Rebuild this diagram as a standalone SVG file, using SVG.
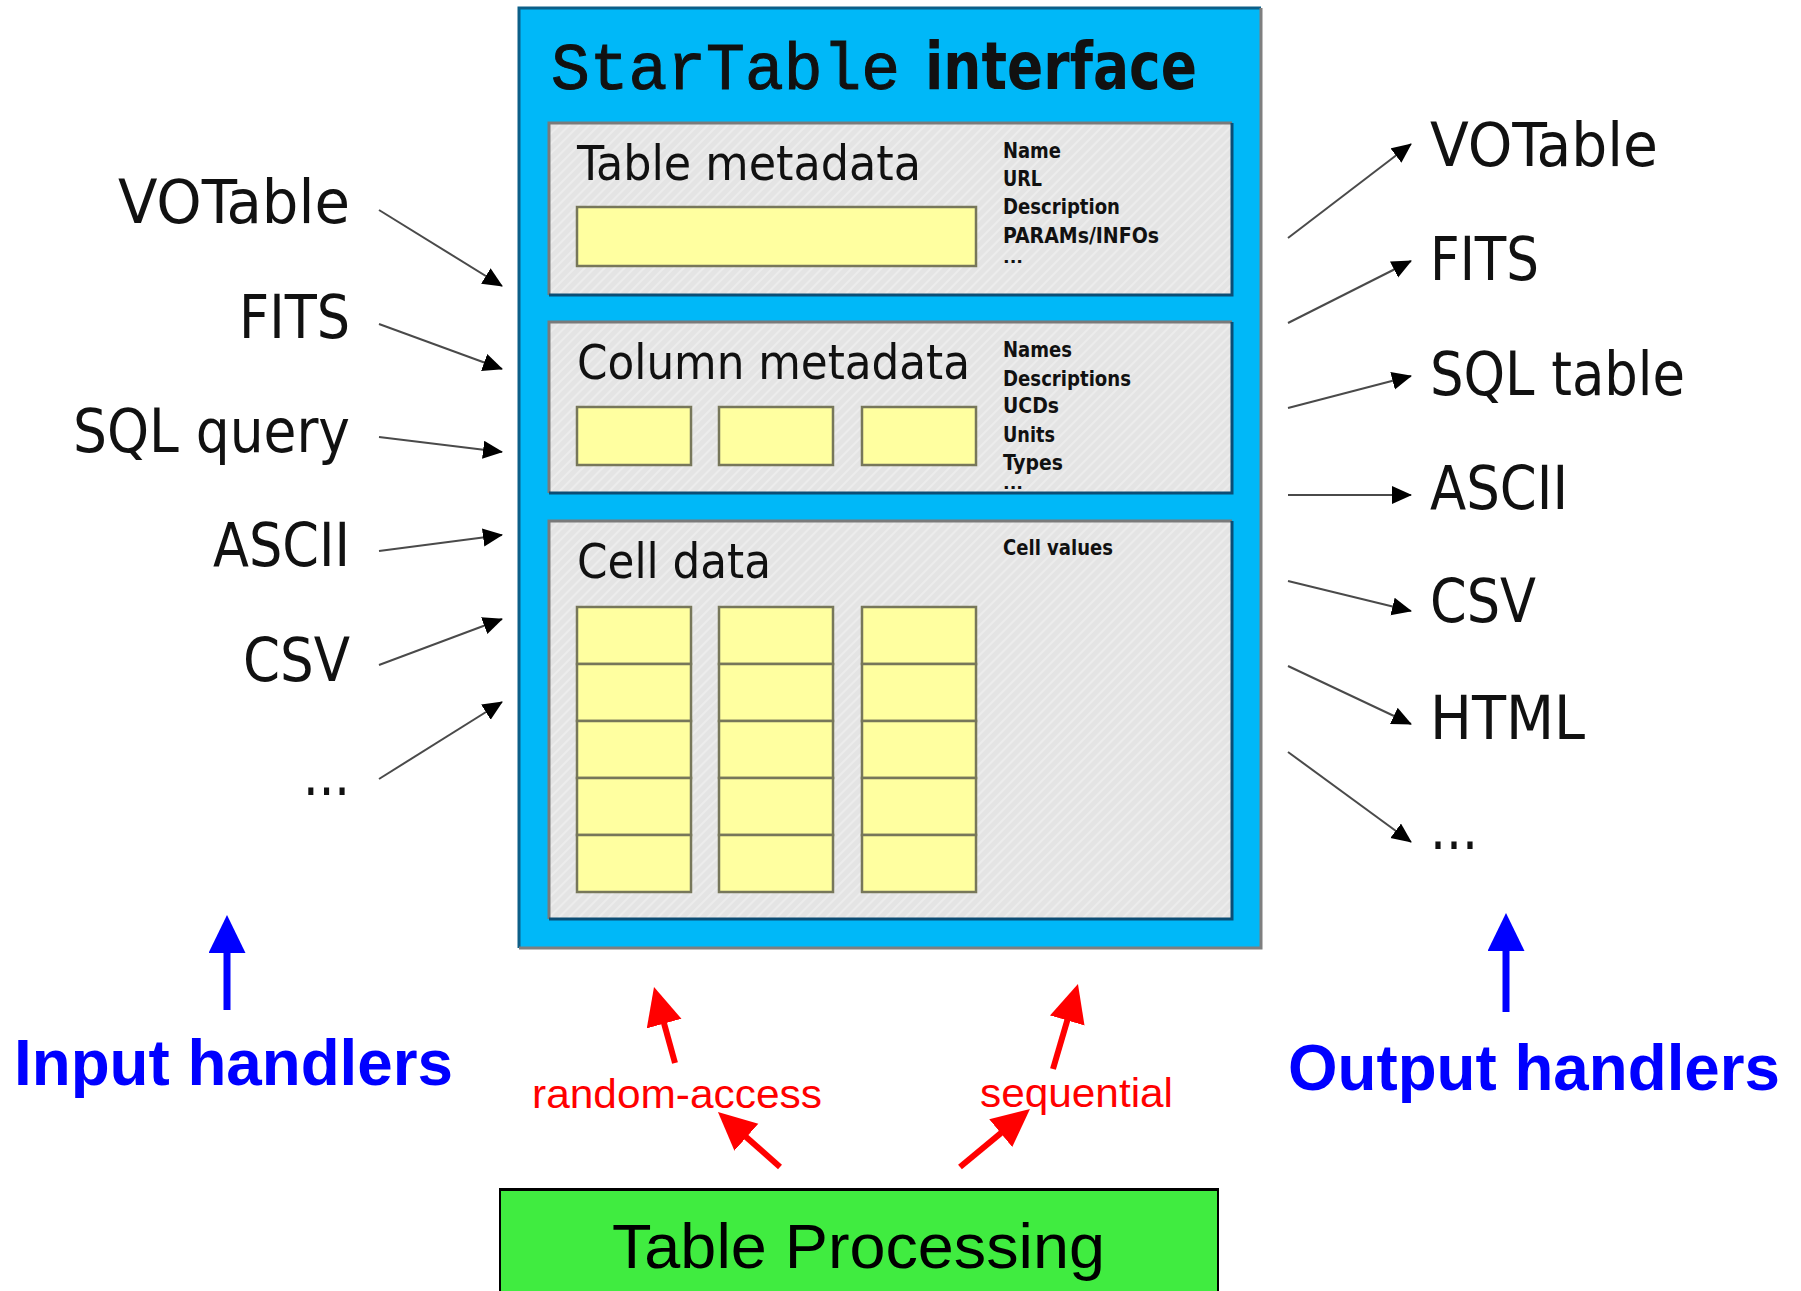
<svg xmlns="http://www.w3.org/2000/svg" width="1801" height="1291" viewBox="0 0 1801 1291">
  <style>
    .mono { font-family: "Liberation Mono", "DejaVu Sans Mono", monospace; }
    .sans { font-family: "DejaVu Sans Condensed", "DejaVu Sans", sans-serif; }
    .arial { font-family: "Liberation Sans", Arial, sans-serif; }
    .head { font-size: 48px; fill: #111; }
    .note { font-size: 21px; font-weight: bold; fill: #111; }
    .dots { font-size: 15px; font-weight: bold; fill: #111; }
    .fmt { font-size: 60px; fill: #111; }
    .yel { fill: #ffffa0; stroke: #77775a; stroke-width: 2.5; }
    .thin { stroke: #4a4a4a; stroke-width: 2; fill: none; marker-end: url(#blk); }
    .red { stroke: #ff0000; stroke-width: 6; fill: none; marker-end: url(#redhead); }
    .blue { stroke: #0000ff; stroke-width: 7; fill: none; marker-end: url(#bluehead); }
    .hand { font-size: 64px; font-weight: bold; fill: #0000ff; }
    .mode { font-size: 40px; fill: #ff0000; }
  </style>
  <defs>
    <pattern id="stripes" width="7" height="7" patternUnits="userSpaceOnUse" patternTransform="rotate(45)">
      <rect width="7" height="7" fill="#e4e4e4"/>
      <line x1="1" y1="0" x2="1" y2="7" stroke="#ececec" stroke-width="2"/>
    </pattern>
    <marker id="blk" markerUnits="userSpaceOnUse" markerWidth="22" markerHeight="20" refX="19" refY="9" orient="auto">
      <path d="M0,0 L20,9 L0,18 z" fill="#000"/>
    </marker>
    <marker id="redhead" markerUnits="userSpaceOnUse" markerWidth="40" markerHeight="38" refX="8" refY="18" orient="auto">
      <path d="M0,0 L38,18 L0,36 z" fill="#ff0000"/>
    </marker>
    <marker id="bluehead" markerUnits="userSpaceOnUse" markerWidth="40" markerHeight="38" refX="18" refY="18.5" orient="auto">
      <path d="M0,0 L38,18.5 L0,37 z" fill="#0000ff"/>
    </marker>
  </defs>

  <rect width="1801" height="1291" fill="#ffffff"/>

  <!-- StarTable interface container -->
  <g id="startable">
    <rect x="519" y="8" width="742" height="940" fill="#00b8f8"/>
    <polyline points="519,948 519,8 1261,8" fill="none" stroke="#0c5f88" stroke-width="3"/>
    <polyline points="1261,8 1261,948 519,948" fill="none" stroke="#7f7f7f" stroke-width="3"/>
    <text class="mono" x="551" y="89" font-size="66" fill="#111" stroke="#111" stroke-width="1" textLength="349" lengthAdjust="spacingAndGlyphs">StarTable</text>
    <text class="sans" x="925" y="89" font-size="66" font-weight="bold" fill="#111" textLength="272" lengthAdjust="spacingAndGlyphs">interface</text>
  </g>

  <!-- Table metadata panel -->
  <g id="table-metadata">
    <rect x="549" y="123" width="683" height="172" fill="url(#stripes)"/>
    <polyline points="549,295 549,123 1232,123" fill="none" stroke="#7a7a7a" stroke-width="3"/>
    <polyline points="1232,123 1232,295 549,295" fill="none" stroke="#0b4d75" stroke-width="3"/>
    <text class="sans head" x="577" y="180" textLength="344" lengthAdjust="spacingAndGlyphs">Table metadata</text>
    <rect class="yel" x="577" y="207" width="399" height="59"/>
    <text class="sans note" x="1003" y="158" textLength="58" lengthAdjust="spacingAndGlyphs">Name</text>
    <text class="sans note" x="1003" y="186" textLength="39" lengthAdjust="spacingAndGlyphs">URL</text>
    <text class="sans note" x="1003" y="214" textLength="117" lengthAdjust="spacingAndGlyphs">Description</text>
    <text class="sans note" x="1003" y="243" textLength="156" lengthAdjust="spacingAndGlyphs">PARAMs/INFOs</text>
    <text class="sans dots" x="1003" y="263" textLength="20" lengthAdjust="spacingAndGlyphs">...</text>
  </g>

  <!-- Column metadata panel -->
  <g id="column-metadata">
    <rect x="549" y="322" width="683" height="171" fill="url(#stripes)"/>
    <polyline points="549,493 549,322 1232,322" fill="none" stroke="#7a7a7a" stroke-width="3"/>
    <polyline points="1232,322 1232,493 549,493" fill="none" stroke="#0b4d75" stroke-width="3"/>
    <text class="sans head" x="577" y="379" textLength="393" lengthAdjust="spacingAndGlyphs">Column metadata</text>
    <rect class="yel" x="577" y="407" width="114" height="58"/>
    <rect class="yel" x="719" y="407" width="114" height="58"/>
    <rect class="yel" x="862" y="407" width="114" height="58"/>
    <text class="sans note" x="1003" y="357" textLength="69" lengthAdjust="spacingAndGlyphs">Names</text>
    <text class="sans note" x="1003" y="386" textLength="128" lengthAdjust="spacingAndGlyphs">Descriptions</text>
    <text class="sans note" x="1003" y="413" textLength="56" lengthAdjust="spacingAndGlyphs">UCDs</text>
    <text class="sans note" x="1003" y="442" textLength="52" lengthAdjust="spacingAndGlyphs">Units</text>
    <text class="sans note" x="1003" y="470" textLength="60" lengthAdjust="spacingAndGlyphs">Types</text>
    <text class="sans dots" x="1003" y="489" textLength="20" lengthAdjust="spacingAndGlyphs">...</text>
  </g>

  <!-- Cell data panel -->
  <g id="cell-data">
    <rect x="549" y="521" width="683" height="398" fill="url(#stripes)"/>
    <polyline points="549,919 549,521 1232,521" fill="none" stroke="#7a7a7a" stroke-width="3"/>
    <polyline points="1232,521 1232,919 549,919" fill="none" stroke="#0b4d75" stroke-width="3"/>
    <text class="sans head" x="577" y="578" textLength="194" lengthAdjust="spacingAndGlyphs">Cell data</text>
    <text class="sans note" x="1003" y="555" textLength="110" lengthAdjust="spacingAndGlyphs">Cell values</text>
    <g id="cells">
      <rect class="yel" x="577" y="607" width="114" height="57"/>
      <rect class="yel" x="577" y="664" width="114" height="57"/>
      <rect class="yel" x="577" y="721" width="114" height="57"/>
      <rect class="yel" x="577" y="778" width="114" height="57"/>
      <rect class="yel" x="577" y="835" width="114" height="57"/>
      <rect class="yel" x="719" y="607" width="114" height="57"/>
      <rect class="yel" x="719" y="664" width="114" height="57"/>
      <rect class="yel" x="719" y="721" width="114" height="57"/>
      <rect class="yel" x="719" y="778" width="114" height="57"/>
      <rect class="yel" x="719" y="835" width="114" height="57"/>
      <rect class="yel" x="862" y="607" width="114" height="57"/>
      <rect class="yel" x="862" y="664" width="114" height="57"/>
      <rect class="yel" x="862" y="721" width="114" height="57"/>
      <rect class="yel" x="862" y="778" width="114" height="57"/>
      <rect class="yel" x="862" y="835" width="114" height="57"/>
    </g>
  </g>

  <!-- Input formats -->
  <g id="inputs" class="sans fmt" text-anchor="end">
    <text id="in-votable" x="350" y="223" textLength="232" lengthAdjust="spacingAndGlyphs">VOTable</text>
    <text id="in-fits" x="350" y="338" textLength="111" lengthAdjust="spacingAndGlyphs">FITS</text>
    <text id="in-sql" x="350" y="452" textLength="277" lengthAdjust="spacingAndGlyphs">SQL query</text>
    <text id="in-ascii" x="350" y="566" textLength="137" lengthAdjust="spacingAndGlyphs">ASCII</text>
    <text id="in-csv" x="350" y="681" textLength="107" lengthAdjust="spacingAndGlyphs">CSV</text>
    <text id="in-more" x="350" y="795" textLength="47" lengthAdjust="spacingAndGlyphs">...</text>
  </g>

  <!-- Output formats -->
  <g id="outputs" class="sans fmt">
    <text id="out-votable" x="1430" y="166" textLength="228" lengthAdjust="spacingAndGlyphs">VOTable</text>
    <text id="out-fits" x="1430" y="280" textLength="109" lengthAdjust="spacingAndGlyphs">FITS</text>
    <text id="out-sql" x="1430" y="395" textLength="255" lengthAdjust="spacingAndGlyphs">SQL table</text>
    <text id="out-ascii" x="1430" y="509" textLength="138" lengthAdjust="spacingAndGlyphs">ASCII</text>
    <text id="out-csv" x="1430" y="622" textLength="106" lengthAdjust="spacingAndGlyphs">CSV</text>
    <text id="out-html" x="1430" y="739" textLength="155" lengthAdjust="spacingAndGlyphs">HTML</text>
    <text id="out-more" x="1430" y="849" textLength="48" lengthAdjust="spacingAndGlyphs">...</text>
  </g>

  <g id="input-handlers">
    <text class="arial hand" x="14" y="1085" textLength="439" lengthAdjust="spacingAndGlyphs">Input handlers</text>
  </g>
  <g id="output-handlers">
    <text class="arial hand" x="1288" y="1090" textLength="492" lengthAdjust="spacingAndGlyphs">Output handlers</text>
  </g>

  <g id="access-labels" class="arial mode">
    <text id="random-access" x="532" y="1108" textLength="290" lengthAdjust="spacingAndGlyphs">random-access</text>
    <text id="sequential" x="980" y="1107" textLength="193" lengthAdjust="spacingAndGlyphs">sequential</text>
  </g>

  <!-- Table Processing box -->
  <g id="table-processing">
    <rect x="500" y="1189" width="718" height="112" fill="#40ec40" stroke="#000" stroke-width="2"/>
    <line x1="500" y1="1189.5" x2="1218" y2="1189.5" stroke="#000" stroke-width="3"/>
    <text class="arial" x="612" y="1268" font-size="63" fill="#000" textLength="493" lengthAdjust="spacingAndGlyphs">Table Processing</text>
  </g>

  <!-- Connectors -->
  <g id="connectors">
    <line class="thin" x1="379" y1="210" x2="502" y2="286"/>
    <line class="thin" x1="379" y1="324" x2="502" y2="369"/>
    <line class="thin" x1="379" y1="437" x2="502" y2="452"/>
    <line class="thin" x1="379" y1="551" x2="502" y2="535"/>
    <line class="thin" x1="379" y1="665" x2="502" y2="619"/>
    <line class="thin" x1="379" y1="779" x2="502" y2="702"/>

    <line class="thin" x1="1288" y1="238" x2="1411" y2="144"/>
    <line class="thin" x1="1288" y1="323" x2="1411" y2="261"/>
    <line class="thin" x1="1288" y1="408" x2="1411" y2="376"/>
    <line class="thin" x1="1288" y1="495" x2="1411" y2="495"/>
    <line class="thin" x1="1288" y1="581" x2="1411" y2="611"/>
    <line class="thin" x1="1288" y1="666" x2="1411" y2="724"/>
    <line class="thin" x1="1288" y1="752" x2="1411" y2="842"/>

    <line class="blue" x1="227" y1="1010" x2="227" y2="935"/>
    <line class="blue" x1="1506" y1="1012" x2="1506" y2="933"/>

    <line class="red" x1="675" y1="1063" x2="662" y2="1015.9"/>
    <line class="red" x1="1053" y1="1069" x2="1069.5" y2="1012.8"/>
    <line class="red" x1="780" y1="1167" x2="740.4" y2="1131.9"/>
    <line class="red" x1="960" y1="1167" x2="1006.9" y2="1128.1"/>
  </g>
</svg>
